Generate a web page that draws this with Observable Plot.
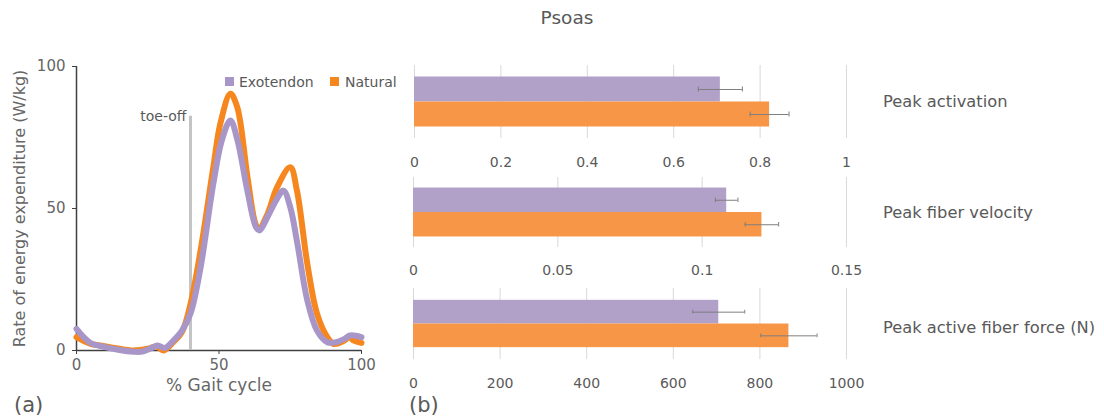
<!DOCTYPE html>
<html>
<head>
<meta charset="utf-8">
<script src="https://cdn.jsdelivr.net/npm/d3@7"></script>
<script src="https://cdn.jsdelivr.net/npm/@observablehq/plot@0.6"></script>
<style>
  body { margin: 0; background: #fff; }
  #fig { position: relative; width: 1104px; height: 420px; overflow: hidden;
         font-family: "DejaVu Sans", Verdana, sans-serif; color: #595959; background: #fff; }
  .abs { position: absolute; white-space: nowrap; line-height: 1; }
  .mid { transform: translateY(-50%); }
  .swatch { position: absolute; width: 9px; height: 9px; }
  #fig svg { position: absolute; overflow: visible; }
</style>
</head>
<body>
<div id="fig"></div>
<script>
// ---- Panel (a): rate of energy expenditure over the gait cycle ----
const naturalGait = [0, 5, 8.4, 14, 20, 25, 28, 30.6, 34, 37, 40, 43.5, 48, 50.5, 54, 56.4, 60, 62.8, 64, 67, 70.4, 75, 77.4, 81, 84.4, 88, 90.3, 94, 95.6, 97.3, 100];
const naturalRate = [4.7, 2.3, 1.8, 0.8, 0, 0.6, 1.4, 0, 3, 6.5, 16.4, 35, 64.5, 80, 90.4, 85.7, 61, 44.6, 42.8, 48, 57.5, 64.5, 56, 30.5, 13, 4.7, 2.3, 3.5, 4.7, 3.5, 2.7];
const exoGait = [0, 2.5, 5, 10, 15, 20, 23, 27, 28.5, 31, 34, 37, 40, 43.5, 48, 51, 54, 56.5, 60, 63, 64.3, 67, 70, 72.6, 75, 77.5, 81, 84.4, 88, 91, 94, 96, 100];
const exoRate = [7.6, 4.7, 2.6, 1.2, 0.2, -0.4, -0.4, 1.2, 1.8, 0.9, 3.5, 7, 13, 29, 58.7, 74, 81, 74, 56, 43.4, 42.3, 47, 52.8, 56.3, 50.5, 37.6, 17.6, 7, 2.9, 2.9, 4.1, 5.3, 4.7];
const gaitTicks = [0, 50, 100];
const rateTicks = [0, 50, 100];
const toeOff = 40;
const toeOffTop = 82.5;

// ---- Panel (b): peak muscle quantities ----
const seriesNames = ["Exotendon", "Natural"];
const metrics = ["Peak activation", "Peak fiber velocity", "Peak active fiber force (N)"];
const exoMean = [0.708, 0.1085, 705];
const exoErr = [0.051, 0.0039, 60];
const natMean = [0.822, 0.1207, 867];
const natErr = [0.045, 0.0058, 65];
const metricDomains = [[0, 1], [0, 0.15], [0, 1000]];
const metricTicks = [[0, 0.2, 0.4, 0.6, 0.8, 1], [0, 0.05, 0.1, 0.15], [0, 200, 400, 600, 800, 1000]];

const FONT = '"DejaVu Sans", Verdana, sans-serif';
const lineColors = ["#A896C8", "#F6871F"];
const barColors = ["#B1A0C7", "#F79646"];
const fig = document.getElementById("fig");

function addText(txt, left, top, size, opts = {}) {
  const d = document.createElement("div");
  d.className = "abs mid";
  d.textContent = txt;
  d.style.left = left + "px";
  d.style.top = top + "px";
  d.style.fontSize = size + "px";
  if (opts.color) d.style.color = opts.color;
  if (opts.center) d.style.transform = "translate(-50%, -50%)";
  fig.appendChild(d);
  return d;
}
function place(svg, left, top) {
  svg.style.left = left + "px";
  svg.style.top = top + "px";
  fig.appendChild(svg);
}

// Title
addText("Psoas", 567, 18, 18.5, {center: true, color: "#595959"});

// Left chart
const naturalRows = naturalGait.map((g, i) => ({gait: g, rate: naturalRate[i]}));
const exoRows = exoGait.map((g, i) => ({gait: g, rate: exoRate[i]}));

const left = Plot.plot({
  width: 400, height: 420,
  marginLeft: 76, marginRight: 39, marginTop: 66, marginBottom: 70,
  style: {fontFamily: FONT, fontSize: "15px", color: "#595959", background: "transparent"},
  x: {domain: [0, 100]},
  y: {domain: [0, 100]},
  marks: [
    Plot.axisX({ticks: gaitTicks, tickSize: 4, tickPadding: 5, stroke: "#404040", fill: "#666",
      label: null, fontSize: 15}),
    Plot.axisX({ticks: [], tickSize: 0, label: "% Gait cycle", labelAnchor: "center", labelOffset: 40,
      labelArrow: false, fontSize: 17, fill: "#666", stroke: "none"}),
    Plot.axisY({ticks: rateTicks, tickSize: 4, tickPadding: 7, stroke: "#404040", fill: "#666",
      label: null, fontSize: 15}),
    Plot.axisY({ticks: [], tickSize: 0, label: "Rate of energy expenditure (W/kg)", labelAnchor: "center",
      labelOffset: 63, labelArrow: false, fontSize: 16, fill: "#666", stroke: "none"}),
    Plot.ruleX([0], {stroke: "#404040", strokeWidth: 1.5}),
    Plot.ruleY([0], {stroke: "#404040", strokeWidth: 1.5}),
    Plot.ruleX([toeOff], {y1: toeOffTop, y2: 0, stroke: "#c4c4c4", strokeWidth: 3}),
    Plot.text([{x: toeOff, y: toeOffTop, label: "toe-off"}], {x: "x", y: "y", text: "label", dx: -4,
      textAnchor: "end", fontSize: 14, fill: "#595959"}),
    Plot.line(naturalRows, {x: "gait", y: "rate", stroke: lineColors[1], strokeWidth: 6, curve: "catmull-rom"}),
    Plot.line(exoRows, {x: "gait", y: "rate", stroke: lineColors[0], strokeWidth: 6, curve: "catmull-rom"})
  ]
});
place(left, 0, 0);

// Legend for panel (a)
[[225, 239], [330, 345]].forEach(([sx, tx], i) => {
  const s = document.createElement("div");
  s.className = "swatch";
  s.style.left = sx + "px";
  s.style.top = "77px";
  s.style.background = lineColors[i];
  fig.appendChild(s);
  addText(seriesNames[i], tx, 82, 14);
});

addText("(a)", 14, 405, 21);

// Bar panels
const panelGeom = [
  {top: 60,  mL: 14, mT: 5, mB: 32, pad: 0.46, tp: 19},
  {top: 170, mL: 13, mT: 7, mB: 33, pad: 0.43, tp: 18},
  {top: 285, mL: 13, mT: 3, mB: 36, pad: 0.5,  tp: 19}
];
const labelY = [102, 213, 328];

metrics.forEach((m, i) => {
  const g = panelGeom[i];
  const rows = [
    {series: seriesNames[0], value: exoMean[i], err: exoErr[i]},
    {series: seriesNames[1], value: natMean[i], err: natErr[i]}
  ];
  const capInset = 10;
  const chart = Plot.plot({
    width: 470, height: 110,
    marginLeft: g.mL, marginRight: 24, marginTop: g.mT, marginBottom: g.mB,
    style: {fontFamily: FONT, fontSize: "14px", color: "#595959", background: "transparent"},
    x: {domain: metricDomains[i]},
    y: {domain: seriesNames, paddingInner: 0, paddingOuter: g.pad, round: false, axis: null},
    color: {domain: seriesNames, range: barColors},
    marks: [
      Plot.gridX({ticks: metricTicks[i], stroke: "#d9d9d9", strokeOpacity: 1}),
      Plot.axisX({ticks: metricTicks[i], tickSize: 0, tickPadding: g.tp, tickFormat: d => String(d),
        fill: "#595959", label: null, fontSize: 14}),
      Plot.barX(rows, {y: "series", x: "value", fill: "series"}),
      Plot.ruleY(rows, {y: "series", x1: d => d.value - d.err, x2: d => d.value + d.err, stroke: "#7f7f7f"}),
      Plot.tickX(rows, {y: "series", x: d => d.value - d.err, stroke: "#7f7f7f", insetTop: capInset, insetBottom: capInset}),
      Plot.tickX(rows, {y: "series", x: d => d.value + d.err, stroke: "#7f7f7f", insetTop: capInset, insetBottom: capInset})
    ]
  });
  place(chart, 400, g.top);
  addText(m, 883, labelY[i], 16.3);
});

addText("(b)", 409, 405, 21);
</script>
</body>
</html>
